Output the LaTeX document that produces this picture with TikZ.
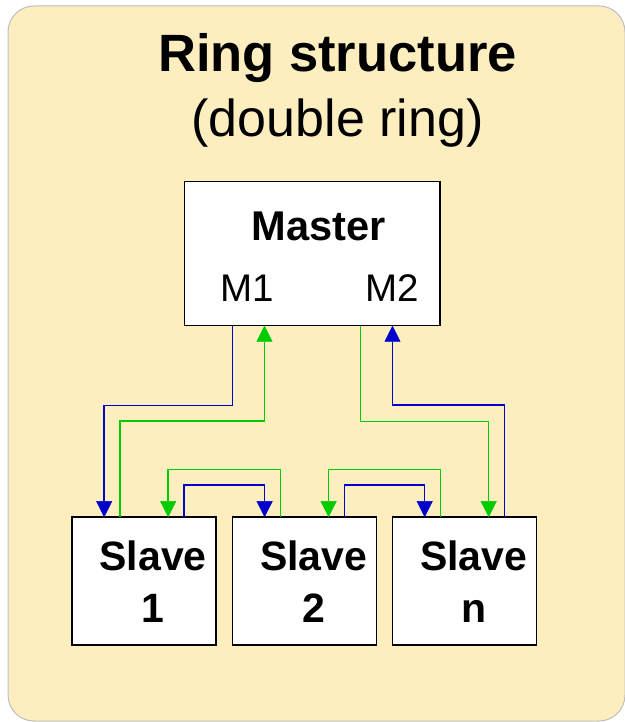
\documentclass[tikz,border=0pt]{standalone}
\usepackage{fontspec}
\setmainfont{Liberation Sans}
\usetikzlibrary{arrows.meta}
\definecolor{bgfill}{RGB}{253,238,192}
\definecolor{bgline}{RGB}{190,190,190}
\definecolor{lnblue}{RGB}{0,0,204}
\definecolor{lngreen}{RGB}{0,204,0}
\tikzset{
  box/.style={draw=black, fill=white, line width=1.5pt, rectangle, inner sep=0pt, outer sep=0pt},
  masterbox/.style={box, minimum width=255.5pt, minimum height=144pt},
  slavebox/.style={box, minimum width=144pt, minimum height=128pt},
  slavetxt/.style={align=center, font=\fontsize{41}{52}\selectfont\bfseries, inner sep=0pt},
  titleA/.style={anchor=base, inner sep=0pt, font=\fontsize{52.5}{62}\selectfont\bfseries},
  titleB/.style={anchor=base, inner sep=0pt, font=\fontsize{52}{62}\selectfont},
  mtxt/.style={anchor=base, inner sep=0pt, font=\fontsize{41.6}{50}\selectfont\bfseries},
  porttxt/.style={anchor=base, inner sep=0pt, font=\fontsize{38.5}{46}\selectfont},
  bconn/.style={line width=1.5pt, draw=lnblue, -{Triangle[length=16pt,width=16pt,line width=0.5pt,fill=lnblue]}},
  gconn/.style={line width=1.5pt, draw=lngreen, -{Triangle[length=16pt,width=16pt,line width=0.5pt,fill=lngreen]}},
}
\begin{document}
\begin{tikzpicture}[x=1pt,y=-1pt]
\useasboundingbox (0,0) rectangle (624,722);
\draw[bgline, fill=bgfill, line width=1pt, rounded corners=26pt] (8,6) rectangle (625,721);

\node[titleA] (t1) at (337.5,71.7) {Ring structure};
\node[titleB] (t2) at (337.5,136.7) {(double ring)};

\node[masterbox] (m) at (312.25,253.7) {};
\node[mtxt] (mt) at (319,240) {Master};
\node[porttxt] (m1) at (247,301.7) {M1};
\node[porttxt] (m2) at (392,301.7) {M2};

\node[slavebox] (s1) at (144.2,581.2) {};
\node[slavebox] (s2) at (304.6,581.2) {};
\node[slavebox] (sn) at (464.7,581.2) {};
\node[slavetxt] (s1t) at ([xshift=9pt]s1.center) {Slave\\1};
\node[slavetxt] (s2t) at ([xshift=9pt]s2.center) {Slave\\2};
\node[slavetxt] (snt) at ([xshift=9pt]sn.center) {Slave\\n};

% outer ring
\draw[bconn] ([xshift=48pt]m.south west) -- ++(0,80) -| ([xshift=32pt]s1.north west);
\draw[gconn] ([xshift=48pt]s1.north west) -- ++(0,-96) -| ([xshift=80pt]m.south west);
\draw[gconn] ([xshift=176pt]m.south west) -- ++(0,96) -| ([xshift=96pt]sn.north west);
\draw[bconn] ([xshift=112pt]sn.north west) -- ++(0,-112) -| ([xshift=208pt]m.south west);
% inner links
\draw[gconn] ([xshift=48pt]s2.north west) -- ++(0,-47.6) -| ([xshift=96pt]s1.north west);
\draw[bconn] ([xshift=112pt]s1.north west) -- ++(0,-32) -| ([xshift=32pt]s2.north west);
\draw[gconn] ([xshift=48pt]sn.north west) -- ++(0,-47.6) -| ([xshift=96pt]s2.north west);
\draw[bconn] ([xshift=112pt]s2.north west) -- ++(0,-32) -| ([xshift=32pt]sn.north west);
\end{tikzpicture}
\end{document}
